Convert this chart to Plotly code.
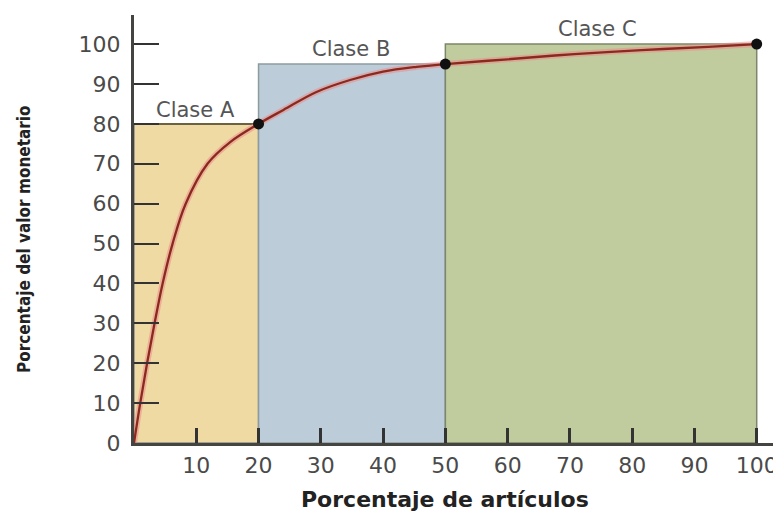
import plotly.graph_objects as go

# ---- data ----
pct_items = [0, 1.0, 2.1, 3.3, 4.6, 6.2, 8.3, 11.8, 15.5, 20, 24, 29.3, 34.7, 40, 45.4, 50, 60, 70.7, 81.5, 92.2, 100]
pct_value = [0, 10, 20, 30, 40, 50, 60, 70, 75.5, 80, 83.5, 88, 91, 93.1, 94.3, 95, 96.2, 97.5, 98.5, 99.3, 100]

class_names = ["Clase A", "Clase B", "Clase C"]
class_x_start = [0, 20, 50]
class_x_end = [20, 50, 100]
class_y_top = [80, 95, 100]

x_ticks = [10, 20, 30, 40, 50, 60, 70, 80, 90, 100]
y_ticks = [0, 10, 20, 30, 40, 50, 60, 70, 80, 90, 100]

# ---- styles ----
fills = ["#F0DAA4", "#BCCCD9", "#C0CB9E"]
borders = ["#8a8f8f", "#8c9c9e", "#7c866a"]
label_pos = [(9.8, 83.5), (34.9, 98.8), (74.4, 103.7)]

# the page body adds an 8px offset; margins compensate for it
L, R, T, B = 126, 8, 7, 76
W, H = 781, 511
PW, PH = W - L - R, H - T - B

fig = go.Figure()

for i in range(len(class_names)):
    x0, x1, yt = class_x_start[i], class_x_end[i], class_y_top[i]
    fig.add_trace(go.Scatter(
        x=[x0, x0, x1, x1, x0], y=[0, yt, yt, 0, 0],
        mode="lines", fill="toself", fillcolor=fills[i],
        line=dict(color=borders[i], width=1.5),
        hoverinfo="skip", showlegend=False))

# Class A top edge darker
fig.add_trace(go.Scatter(
    x=[class_x_start[0], class_x_end[0]], y=[class_y_top[0], class_y_top[0]],
    mode="lines", line=dict(color="#6b6240", width=2),
    hoverinfo="skip", showlegend=False))

# curve halo + curve
fig.add_trace(go.Scatter(
    x=pct_items, y=pct_value, mode="lines",
    line=dict(color="rgba(235,140,140,0.55)", width=6, shape="spline", smoothing=1.0),
    hoverinfo="skip", showlegend=False))
fig.add_trace(go.Scatter(
    x=pct_items, y=pct_value, mode="lines",
    line=dict(color="#8a2a1e", width=2.3, shape="spline", smoothing=1.0),
    showlegend=False))

# boundary points
fig.add_trace(go.Scatter(
    x=class_x_end, y=class_y_top, mode="markers",
    marker=dict(color="#111111", size=11),
    showlegend=False, cliponaxis=False))

for name, (lx, ly) in zip(class_names, label_pos):
    fig.add_annotation(x=lx, y=ly, text=name, showarrow=False,
                       xanchor="center", yanchor="middle",
                       font=dict(family="DejaVu Sans", size=21, color="#555555"))

fig.add_annotation(xref="paper", yref="paper",
                   x=(16 - L) / PW, y=(H - B - 231) / PH,
                   text="Porcentaje del valor monetario", textangle=-90,
                   showarrow=False, xanchor="center", yanchor="middle",
                   font=dict(family="DejaVu Sans Condensed, Liberation Sans Narrow, Liberation Sans",
                             size=17, color="#222222", weight="bold"))

fig.add_annotation(xref="x", yref="paper",
                   x=50, y=(H - B - 491) / PH,
                   text="Porcentaje de artículos",
                   showarrow=False, xanchor="center", yanchor="middle",
                   font=dict(family="DejaVu Sans", size=22, color="#222222", weight="bold"))

fig.update_layout(
    width=W, height=H,
    margin=dict(l=L, r=R, t=T, b=B),
    paper_bgcolor="white", plot_bgcolor="white",
    xaxis=dict(range=[0, 103.9], tickvals=x_ticks, ticktext=[str(v) for v in x_ticks],
               ticks="inside", ticklen=15, tickwidth=2.5, tickcolor="#333333",
               showline=True, linecolor="#444440", linewidth=3,
               showgrid=False, zeroline=False, ticklabelstandoff=1,
               tickfont=dict(family="DejaVu Sans", size=22, color="#4a4a4a")),
    yaxis=dict(range=[0, 107.3], tickvals=y_ticks, ticktext=[str(v) for v in y_ticks],
               ticks="inside", ticklen=25, tickwidth=2, tickcolor="#333333",
               showline=True, linecolor="#444440", linewidth=3,
               showgrid=False, zeroline=False, ticklabelstandoff=6,
               tickfont=dict(family="DejaVu Sans", size=22, color="#4a4a4a")),
)

fig.write_html("out.html")
